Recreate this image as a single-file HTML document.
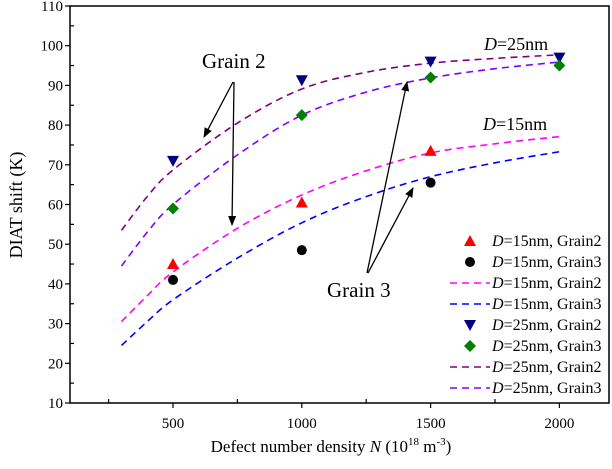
<!DOCTYPE html>
<html><head><meta charset="utf-8"><style>
body{margin:0;background:#fff}
svg{font-family:"Liberation Serif",serif}
</style></head><body>
<svg id="c" width="612" height="464" viewBox="0 0 612 464" xmlns="http://www.w3.org/2000/svg">
<defs><marker id="ah" markerWidth="10" markerHeight="8" refX="9" refY="4" orient="auto" markerUnits="userSpaceOnUse"><path d="M0,0 L10,4 L0,8 Z" fill="#000"/></marker></defs>
<g id="plot"></g>
</svg>
<script>
const xTicks=[500,1000,1500,2000];
const yTicks=[10,20,30,40,50,60,70,80,90,100,110];
const ptX=[500,1000,1500];
const d15g2=[45,60.5,73.5];
const d15g3=[41,48.5,65.5];
const ptX25=[500,1000,1500,2000];
const d25g2=[71,91.3,96,97];
const d25g3=[59,82.5,92,95];
const fitX=[300,400,500,750,1000,1250,1500,1750,2000];
const fit15g2=[30.5,37,43,54,62.4,68.5,73,75.3,77.1];
const fit15g3=[24.5,30.5,36,46.5,55.4,62,67,70.5,73.3];
const fit25g2=[53.5,62,68.7,80.5,89.1,93.3,95.6,96.8,97.7];
const fit25g3=[44.5,53,60,72.5,82.5,88.3,91.9,94.2,95.9];

const L=70,R=609,T=6,B=403;
const X=v=>173+(v-500)*128.8/500;
const Y=v=>B-(v-10)*(B-T)/100;
const NS="http://www.w3.org/2000/svg";
const g=document.getElementById('plot');
function mk(t,a,txt){const e=document.createElementNS(NS,t);for(const k in a)e.setAttribute(k,a[k]);if(txt!==undefined)e.textContent=txt;g.appendChild(e);return e;}

let fr=mk('rect',{x:L,y:T,width:R-L,height:B-T,fill:'none',stroke:'#000','stroke-width':1.5});


yTicks.forEach((v,i)=>{
  let t=mk('line',{x1:L-5,x2:L,y1:Y(v),y2:Y(v),stroke:'#000','stroke-width':1.2});
  
  
  let lb=mk('text',{x:L-7,y:Y(v)+5,'text-anchor':'end','font-size':15},String(v));
  
  
  if(i<yTicks.length-1){let m=mk('line',{x1:L,x2:L+4,y1:Y(v+5),y2:Y(v+5),stroke:'#000','stroke-width':1.2});
  
  }
});
xTicks.forEach(v=>{
  let t=mk('line',{x1:X(v),x2:X(v),y1:B,y2:B+5,stroke:'#000','stroke-width':1.2});
  
  
  let lb=mk('text',{x:X(v),y:B+25,'text-anchor':'middle','font-size':15},String(v));
  
  
});
[250,750,1250,1750].forEach(v=>{
  let m=mk('line',{x1:X(v),x2:X(v),y1:B,y2:B-4,stroke:'#000','stroke-width':1.2});
  
  
});
let yt=mk('text',{x:0,y:0,'text-anchor':'middle','font-size':18,transform:'translate(22,205) rotate(-90)'},'DIAT shift (K)');


let xt=mk('text',{x:331,y:452,'text-anchor':'middle','font-size':17});
xt.innerHTML='Defect number density <tspan font-style="italic">N</tspan> (10<tspan font-size="11" dy="-7">18</tspan><tspan dy="7"> m</tspan><tspan font-size="11" dy="-7">-3</tspan><tspan dy="7">)</tspan>';



function curve(xs,ys,col,name){
  const P=xs.map((x,i)=>[X(x),Y(ys[i])]);
  let d='M'+P[0][0].toFixed(1)+','+P[0][1].toFixed(1);
  for(let i=0;i<P.length-1;i++){
    const p0=P[Math.max(0,i-1)],p1=P[i],p2=P[i+1],p3=P[Math.min(P.length-1,i+2)];
    const c1=[p1[0]+(p2[0]-p0[0])/6,p1[1]+(p2[1]-p0[1])/6];
    const c2=[p2[0]-(p3[0]-p1[0])/6,p2[1]-(p3[1]-p1[1])/6];
    d+=` C${c1[0].toFixed(1)},${c1[1].toFixed(1)} ${c2[0].toFixed(1)},${c2[1].toFixed(1)} ${p2[0].toFixed(1)},${p2[1].toFixed(1)}`;
  }
  let p=mk('path',{d:d,fill:'none',stroke:col,'stroke-width':1.6,'stroke-dasharray':'7,5'});
  
  
}
curve(fitX,fit15g2,'#ff00ff','fit-d15-grain2');
curve(fitX,fit15g3,'#0000ff','fit-d15-grain3');
curve(fitX,fit25g2,'#800080','fit-d25-grain2');
curve(fitX,fit25g3,'#8000ff','fit-d25-grain3');

function marker(type,cx,cy,name){
  let e;
  if(type==='tri')e=mk('path',{d:`M${cx},${cy-6} L${cx+6},${cy+5} L${cx-6},${cy+5} Z`,fill:'#ff0000'});
  else if(type==='circ')e=mk('circle',{cx:cx,cy:cy,r:5,fill:'#000'});
  else if(type==='dtri')e=mk('path',{d:`M${cx-6},${cy-5} L${cx+6},${cy-5} L${cx},${cy+6} Z`,fill:'#000080'});
  else e=mk('path',{d:`M${cx},${cy-6} L${cx+6},${cy} L${cx},${cy+6} L${cx-6},${cy} Z`,fill:'#008000'});
  
  
}
ptX.forEach((x,i)=>marker('tri',X(x),Y(d15g2[i]),'point-d15-grain2'));
ptX.forEach((x,i)=>marker('circ',X(x),Y(d15g3[i]),'point-d15-grain3'));
ptX25.forEach((x,i)=>marker('dtri',X(x),Y(d25g2[i]),'point-d25-grain2'));
ptX25.forEach((x,i)=>marker('dia',X(x),Y(d25g3[i]),'point-d25-grain3'));

function txt(x,y,s,name,sz){let e=mk('text',{x:x,y:y,'font-size':sz||18});e.innerHTML=s;}
txt(202,68,'Grain 2','grain2-label',21);
txt(327,297,'Grain 3','grain3-label',21);
txt(484,50,'<tspan font-style="italic">D</tspan>=25nm','d25-label',18);
txt(483,130,'<tspan font-style="italic">D</tspan>=15nm','d15-label',18);
function arrow(x1,y1,x2,y2,name){let a=mk('line',{x1,y1,x2,y2,stroke:'#000','stroke-width':1.3,'marker-end':'url(#ah)'});}
arrow(233,82,204,137,'grain2-arrow-1');
arrow(234,82,232,225,'grain2-arrow-2');
arrow(367,273,407,82,'grain3-arrow-1');
arrow(368,273,413,188,'grain3-arrow-2');

const legRows=[['tri','#ff0000','15','Grain2'],['circ','#000','15','Grain3'],['line','#ff00ff','15','Grain2'],['line','#0000ff','15','Grain3'],['dtri','','25','Grain2'],['dia','','25','Grain3'],['line','#800080','25','Grain2'],['line','#8000ff','25','Grain3']];
legRows.forEach((r,i)=>{
  const y=241+i*21;
  if(r[0]==='line'){let l=mk('line',{x1:450,x2:490,y1:y,y2:y,stroke:r[1],'stroke-width':1.6,'stroke-dasharray':'7,5'});}
  else marker(r[0],470,y,'legend-marker');
  txt(492,y+5,'<tspan font-style="italic">D</tspan>='+r[2]+'nm, '+r[3],'legend-entry',16);
});
</script>
</body></html>
